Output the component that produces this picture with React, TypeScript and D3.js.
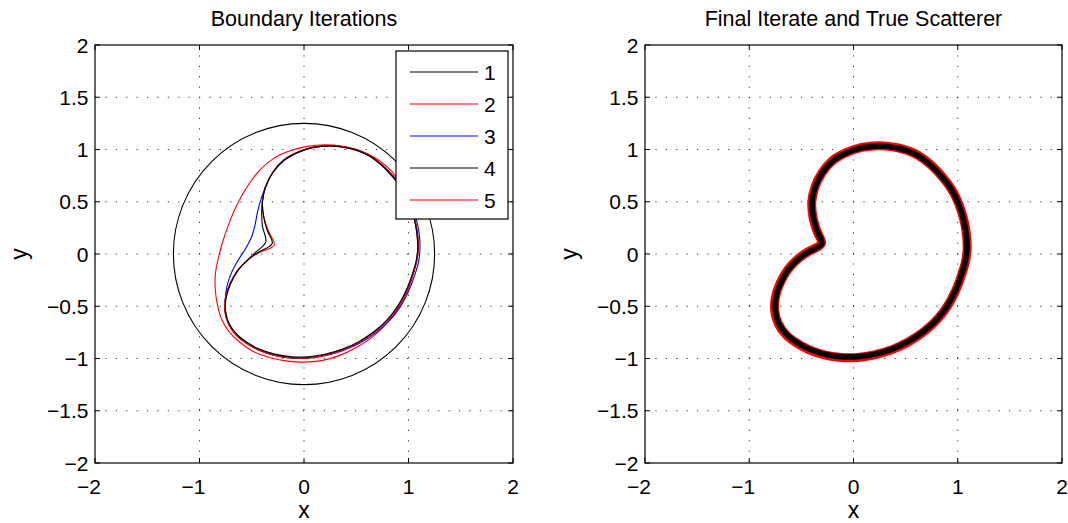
import React from 'react';
import * as d3 from 'd3';

const W = 1068;
const H = 523;

// axis ticks
const xTicks = [-2, -1, 0, 1, 2];
const yTicks = [-2, -1.5, -1, -0.5, 0, 0.5, 1, 1.5, 2];

// legend
const legendLabels = ['1', '2', '3', '4', '5'];
const legendColors = ['#000000', '#ff0000', '#0000ff', '#000000', '#ff0000'];

const titles = ['Boundary Iterations', 'Final Iterate and True Scatterer'];

// iteration 1: initial circle guess (radius)
const iter1Radius = 1.25;

// iteration 2 (red, outer)
const iter2: [number, number][] = [
  [1.085, 0.008], [1.08, 0.2], [1.05, 0.36], [1.0, 0.52], [0.93, 0.66], [0.84, 0.79],
  [0.72, 0.895], [0.57, 0.975], [0.4, 1.025], [0.217, 1.045], [0.03, 1.03], [-0.14, 0.985],
  [-0.29, 0.915], [-0.421, 0.806], [-0.52, 0.68], [-0.6, 0.55], [-0.67, 0.41], [-0.73, 0.26],
  [-0.78, 0.11], [-0.82, -0.04], [-0.847, -0.18], [-0.85, -0.32], [-0.83, -0.48], [-0.79, -0.62],
  [-0.72, -0.74], [-0.62, -0.84], [-0.49, -0.93], [-0.33, -0.99], [-0.16, -1.025], [0.0, -1.035],
  [0.17, -1.02], [0.33, -0.975], [0.5, -0.895], [0.66, -0.79], [0.8, -0.655], [0.92, -0.49],
  [1.0, -0.33], [1.055, -0.16],
];

// iteration 3 (blue)
const iter3: [number, number][] = [
  [1.11, 0.05], [1.102, 0.2], [1.072, 0.34], [1.025, 0.48], [0.953, 0.62], [0.86, 0.74],
  [0.745, 0.855], [0.6, 0.952], [0.43, 1.012], [0.253, 1.035], [0.08, 1.017], [-0.07, 0.966],
  [-0.2, 0.888], [-0.3, 0.78], [-0.36, 0.66], [-0.41, 0.53], [-0.445, 0.4], [-0.47, 0.27],
  [-0.5, 0.168], [-0.56, 0.05], [-0.63, -0.06], [-0.69, -0.17], [-0.735, -0.3], [-0.752, -0.42],
  [-0.755, -0.55], [-0.72, -0.672], [-0.65, -0.773], [-0.55, -0.855], [-0.43, -0.92],
  [-0.28, -0.97], [-0.12, -0.996], [0.04, -0.997], [0.2, -0.973], [0.37, -0.925], [0.54, -0.85],
  [0.69, -0.752], [0.815, -0.64], [0.92, -0.508], [1.0, -0.357], [1.062, -0.195], [1.097, -0.07],
];

// iteration 4 (black)
const iter4: [number, number][] = [
  [1.094, 0.05], [1.086, 0.2], [1.058, 0.34], [1.013, 0.48], [0.943, 0.62], [0.852, 0.74],
  [0.742, 0.855], [0.6, 0.956], [0.43, 1.016], [0.253, 1.038], [0.08, 1.021], [-0.07, 0.971],
  [-0.2, 0.896], [-0.3, 0.78], [-0.37, 0.64], [-0.396, 0.52], [-0.405, 0.4], [-0.398, 0.27],
  [-0.364, 0.12], [-0.4, 0.07], [-0.47, 0.01], [-0.55, -0.07], [-0.632, -0.152], [-0.706, -0.28],
  [-0.75, -0.42], [-0.755, -0.55], [-0.72, -0.671], [-0.65, -0.772], [-0.55, -0.852],
  [-0.43, -0.917], [-0.28, -0.967], [-0.12, -0.992], [0.04, -0.992], [0.2, -0.967],
  [0.37, -0.917], [0.53, -0.842], [0.68, -0.742], [0.8, -0.632], [0.9, -0.502], [0.982, -0.35],
  [1.043, -0.19], [1.078, -0.07],
];

// iteration 5 (red)
const iter5: [number, number][] = [
  [1.092, 0.05], [1.084, 0.2], [1.057, 0.34], [1.012, 0.48], [0.942, 0.62], [0.852, 0.74],
  [0.742, 0.855], [0.6, 0.956], [0.43, 1.016], [0.253, 1.037], [0.08, 1.02], [-0.07, 0.97],
  [-0.2, 0.895], [-0.3, 0.78], [-0.37, 0.64], [-0.398, 0.5], [-0.385, 0.36], [-0.345, 0.23],
  [-0.284, 0.088], [-0.325, 0.055], [-0.425, 0.015], [-0.53, -0.05], [-0.63, -0.152],
  [-0.706, -0.282], [-0.752, -0.42], [-0.758, -0.55], [-0.722, -0.672], [-0.652, -0.773],
  [-0.552, -0.854], [-0.432, -0.92], [-0.28, -0.97], [-0.12, -0.995], [0.04, -0.995],
  [0.2, -0.97], [0.37, -0.92], [0.53, -0.845], [0.68, -0.745], [0.802, -0.634], [0.902, -0.503],
  [0.982, -0.352], [1.043, -0.19], [1.078, -0.07],
];

// final iterate (black)
const finalIterate: [number, number][] = [
  [1.088, 0.05], [1.08, 0.2], [1.053, 0.34], [1.008, 0.48], [0.938, 0.62], [0.848, 0.738],
  [0.738, 0.852], [0.6, 0.952], [0.43, 1.012], [0.253, 1.034], [0.08, 1.017], [-0.07, 0.967],
  [-0.198, 0.892], [-0.298, 0.778], [-0.367, 0.64], [-0.397, 0.5], [-0.387, 0.36],
  [-0.353, 0.23], [-0.303, 0.104], [-0.338, 0.068], [-0.428, 0.022], [-0.527, -0.046],
  [-0.626, -0.15], [-0.7, -0.28], [-0.745, -0.42], [-0.75, -0.548], [-0.715, -0.667],
  [-0.646, -0.765], [-0.547, -0.845], [-0.428, -0.91], [-0.28, -0.958], [-0.12, -0.983],
  [0.04, -0.983], [0.2, -0.959], [0.37, -0.91], [0.528, -0.836], [0.677, -0.737],
  [0.797, -0.628], [0.897, -0.499], [0.977, -0.35], [1.037, -0.19], [1.072, -0.07],
];

// true scatterer (red)
const trueScatterer: [number, number][] = [
  [1.09, 0.05], [1.082, 0.2], [1.055, 0.34], [1.01, 0.48], [0.94, 0.62], [0.85, 0.74],
  [0.74, 0.855], [0.6, 0.955], [0.43, 1.015], [0.253, 1.037], [0.08, 1.02], [-0.07, 0.97],
  [-0.2, 0.895], [-0.3, 0.78], [-0.37, 0.64], [-0.4, 0.5], [-0.39, 0.36], [-0.355, 0.23],
  [-0.306, 0.104], [-0.34, 0.07], [-0.43, 0.025], [-0.53, -0.045], [-0.63, -0.15],
  [-0.705, -0.28], [-0.75, -0.42], [-0.755, -0.55], [-0.72, -0.67], [-0.65, -0.77],
  [-0.55, -0.85], [-0.43, -0.915], [-0.28, -0.965], [-0.12, -0.99], [0.04, -0.99],
  [0.2, -0.965], [0.37, -0.915], [0.53, -0.84], [0.68, -0.74], [0.8, -0.63], [0.9, -0.5],
  [0.98, -0.35], [1.04, -0.19], [1.075, -0.07],
];

const FONT = "'Liberation Sans', Arial, Helvetica, sans-serif";
const FS = 21;
const FS_TITLE = 21.5;
const FS_LABEL = 23;

const fmt = (v: number) => (v < 0 ? '\u2212' : '') + String(Math.abs(v));

type Panel = { left: number; right: number; top: number; bottom: number };
type Sc = d3.ScaleLinear<number, number>;

function Axes({ p, title, children }: { p: Panel; title: string; children: (x: Sc, y: Sc) => React.ReactNode }) {
  const x = d3.scaleLinear().domain([-2, 2]).range([p.left, p.right]);
  const y = d3.scaleLinear().domain([-2, 2]).range([p.bottom, p.top]);
  const tl = 5;
  const cx = (p.left + p.right) / 2;
  const cy = (p.top + p.bottom) / 2;
  return (
    <g>
      <rect x={p.left} y={p.top} width={p.right - p.left} height={p.bottom - p.top} fill="#fff" />
      {xTicks.filter((t) => t > -2 && t < 2).map((t) => (
        <line key={'gx' + t} x1={x(t)} x2={x(t)} y1={p.top} y2={p.bottom} stroke="#333" strokeWidth={1} strokeDasharray="1.2,9.2" />
      ))}
      {yTicks.filter((t) => t > -2 && t < 2).map((t) => (
        <line key={'gy' + t} y1={y(t)} y2={y(t)} x1={p.left} x2={p.right} stroke="#333" strokeWidth={1} strokeDasharray="1.2,9.2" />
      ))}
      <g>{children(x, y)}</g>
      <rect x={p.left} y={p.top} width={p.right - p.left} height={p.bottom - p.top} fill="none" stroke="#000" strokeWidth={1.2} />
      {xTicks.map((t) => (
        <g key={'tx' + t}>
          <line x1={x(t)} x2={x(t)} y1={p.bottom} y2={p.bottom - tl} stroke="#000" strokeWidth={1} />
          <line x1={x(t)} x2={x(t)} y1={p.top} y2={p.top + tl} stroke="#000" strokeWidth={1} />
          <text x={x(t) + 0.278 * FS} y={493.5} textAnchor="end" fontSize={FS} fontFamily={FONT}>{fmt(t)}</text>
        </g>
      ))}
      {yTicks.map((t) => (
        <g key={'ty' + t}>
          <line x1={p.left} x2={p.left + tl} y1={y(t)} y2={y(t)} stroke="#000" strokeWidth={1} />
          <line x1={p.right} x2={p.right - tl} y1={y(t)} y2={y(t)} stroke="#000" strokeWidth={1} />
          <text x={p.left - 6.5} y={y(t)} dy="0.36em" textAnchor="end" fontSize={FS} fontFamily={FONT}>{fmt(t)}</text>
        </g>
      ))}
      <text x={cx} y={26} textAnchor="middle" fontSize={FS_TITLE} fontFamily={FONT}>{title}</text>
      <text x={cx} y={518} textAnchor="middle" fontSize={FS_LABEL} fontFamily={FONT}>x</text>
      <text transform={`translate(${p.left - 68},${cy}) rotate(-90)`} textAnchor="middle" fontSize={FS_LABEL} fontFamily={FONT}>y</text>
    </g>
  );
}

const closedLine = (x: Sc, y: Sc) =>
  d3.line<[number, number]>().x((d) => x(d[0])).y((d) => y(d[1])).curve(d3.curveCatmullRomClosed.alpha(0.5));

export default function App() {
  const pL: Panel = { left: 95, right: 513, top: 45, bottom: 463 };
  const pR: Panel = { left: 645, right: 1062, top: 45, bottom: 463 };
  const legendX = 396;
  const legendY = 51;
  return (
    <svg width={W} height={H} style={{ position: 'absolute', left: 0, top: 0, background: '#fff' }}>
      <rect width={W} height={H} fill="#fff" />
      <Axes p={pL} title={titles[0]}>
        {(x, y) => {
          const ln = closedLine(x, y);
          return (
            <g fill="none" strokeWidth={1.1}>
              <circle cx={x(0)} cy={y(0)} r={x(iter1Radius) - x(0)} stroke={legendColors[0]} />
              <path d={ln(iter2) || ''} stroke={legendColors[1]} />
              <path d={ln(iter3) || ''} stroke={legendColors[2]} />
              <path d={ln(iter4) || ''} stroke={legendColors[3]} />
              <path d={ln(iter5) || ''} stroke={legendColors[4]} />
              <path d={ln(finalIterate) || ''} stroke="#000" />
              <rect x={legendX} y={legendY} width={112} height={168} fill="#fff" stroke="#000" strokeWidth={1.2} />
              {legendLabels.map((lab, i) => (
                <g key={lab}>
                  <line x1={legendX + 14} x2={legendX + 82} y1={legendY + 21 + i * 32} y2={legendY + 21 + i * 32} stroke={legendColors[i]} strokeWidth={1.1} />
                  <text x={legendX + 88} y={legendY + 21 + i * 32} dy="0.36em" fontSize={FS} fontFamily={FONT} fill="#000" stroke="none">{lab}</text>
                </g>
              ))}
            </g>
          );
        }}
      </Axes>
      <Axes p={pR} title={titles[1]}>
        {(x, y) => {
          const ln = closedLine(x, y);
          return (
            <g fill="none" strokeLinejoin="round">
              <path d={ln(trueScatterer) || ''} stroke="#ff0000" strokeWidth={9} />
              <path d={ln(finalIterate) || ''} stroke="#000" strokeWidth={5.5} />
            </g>
          );
        }}
      </Axes>
    </svg>
  );
}
